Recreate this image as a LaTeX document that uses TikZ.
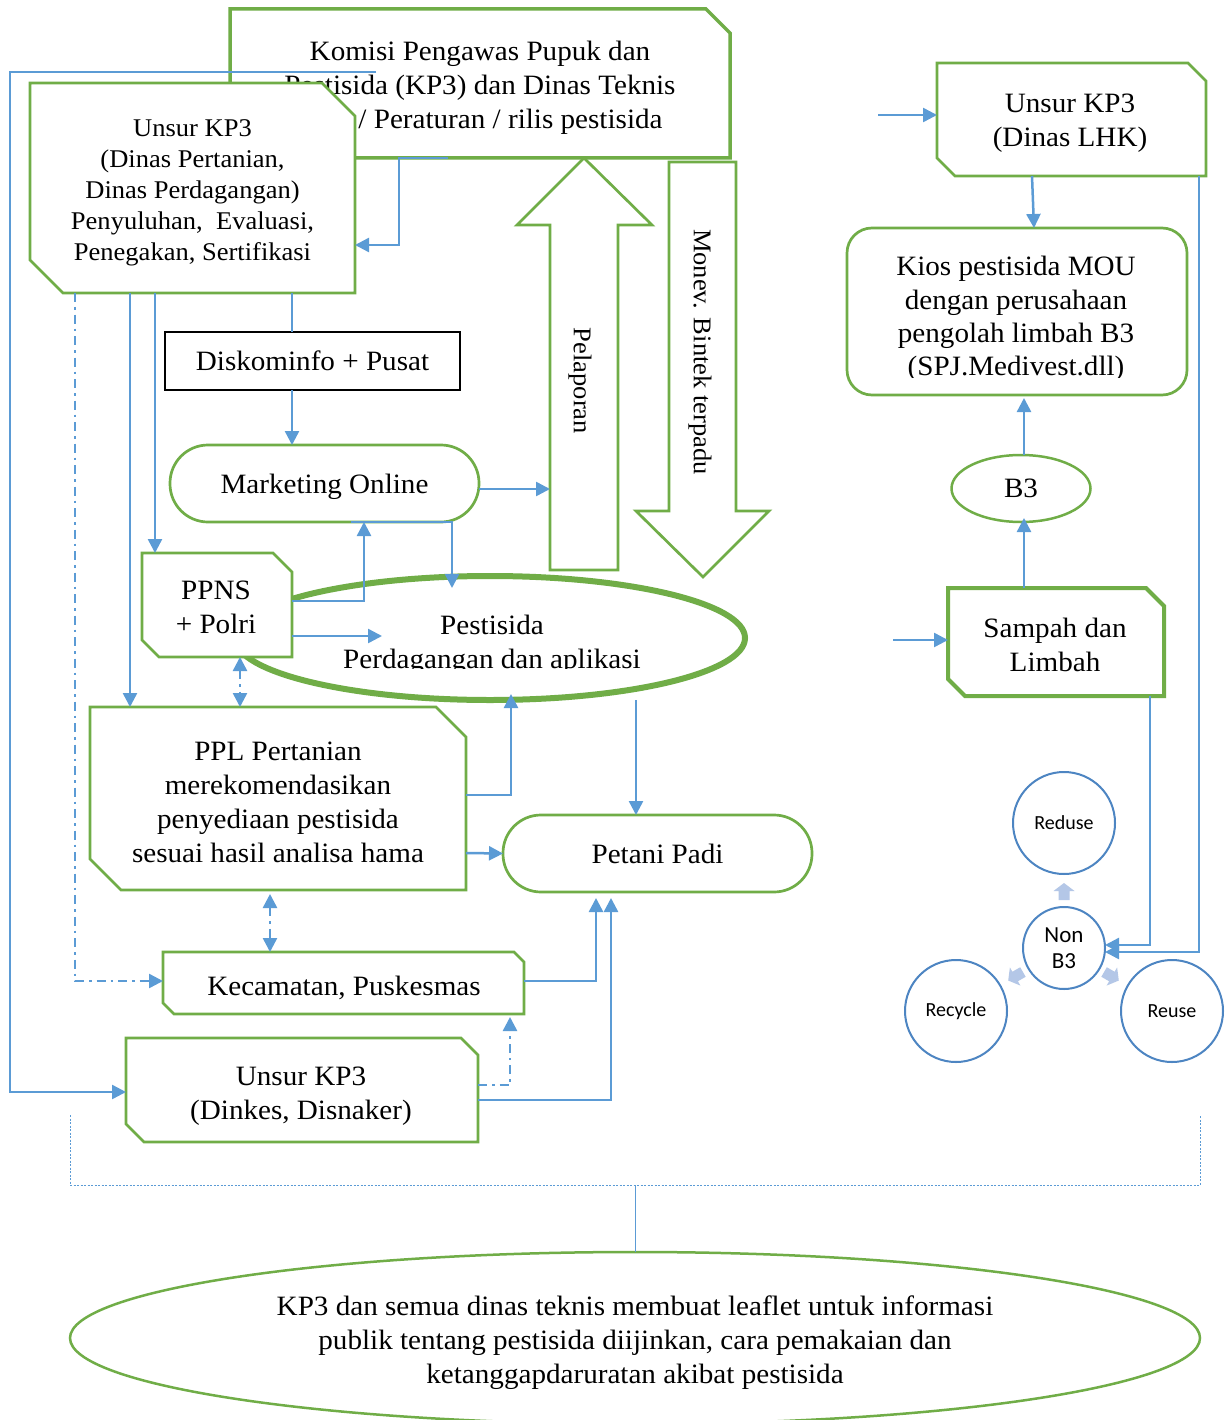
\documentclass[tikz,border=0pt]{standalone}
\usepackage{fontspec}
\setmainfont{Liberation Serif}[FakeStretch=1.04]
\newfontfamily\sansf{Carlito}
\usetikzlibrary{arrows.meta,shapes.geometric}
\definecolor{cgreen}{HTML}{70AD47}
\definecolor{cblue}{HTML}{5B9BD5}
\definecolor{ccirc}{HTML}{4D85C2}
\definecolor{clight}{HTML}{B4C7E7}
\newcommand\chbox[4]{\draw[#4] ([xshift=-#2]#1.north east) -- ([yshift=-#2]#1.north east) -- (#1.south east) -- ([xshift=#3]#1.south west) -- ([yshift=#3]#1.south west) -- (#1.north west) -- cycle;}
\begin{document}
\begin{tikzpicture}[x=1pt,y=-1pt,
  >={Triangle[length=14pt,width=14pt]},
  every node/.style={font=\fontsize{28}{34}\selectfont, align=center},
  frame/.style={inner sep=0pt, outer sep=0pt},
  gbox/.style={draw=cgreen, line width=2.7pt, fill=white},
  conn/.style={draw=cblue, line width=2.5pt},
  arr/.style={conn, ->},
  dd/.style={dash pattern=on 9pt off 5pt on 2.5pt off 5pt},
  darr/.style={conn, <->, dd},
  circ/.style={circle, draw=ccirc, line width=2pt, fill=white, inner sep=0pt, outer sep=0pt, font=\sansf\fontsize{20}{24}\selectfont},
  small/.style={font=\fontsize{25.5}{31}\selectfont},
  blockarr/.pic={\fill[clight] (-8,-5.5) -- (1,-5.5) -- (1,-10.5) -- (9,0) -- (1,10.5) -- (1,5.5) -- (-8,5.5) -- cycle;}
]
\path[use as bounding box, clip] (0,0) rectangle (1230,1420);
\fill[white] (0,0) rectangle (1230,1420);

% top box
\node[frame, minimum width=500pt, minimum height=149pt] (komisi) at (480,83.5) {};
\chbox{komisi}{24pt}{0pt}{gbox, line width=3.5pt}
\node (komisiT) at (480,88) {Komisi Pengawas Pupuk dan\\Pestisida (KP3) dan Dinas Teknis\\\hspace*{61pt}/ Peraturan / rilis pestisida};

% Unsur KP3 (Dinas Pertanian)
\node[frame, minimum width=325pt, minimum height=210pt] (unsur1) at (192.5,188) {};
\chbox{unsur1}{33pt}{33pt}{gbox}
\node[small] (unsur1T) at (192.5,193) {Unsur KP3\\(Dinas Pertanian,\\Dinas Perdagangan)\\Penyuluhan,\ \ Evaluasi,\\Penegakan, Sertifikasi};

% Pelaporan arrow
\node[frame, minimum width=68pt, minimum height=345pt] (pel) at (584,397.5) {};
\draw[gbox] (pel.south west) -- (pel.north west) -- ++(-33,0) -- ++(67,-67) -- ++(68,67) -- (pel.north east) -- (pel.south east) -- cycle;
\node[rotate=-90, small] (pelT) at (580,381) {Pelaporan};

% Monev arrow
\node[frame, minimum width=67pt, minimum height=349pt] (monev) at (702.5,336.5) {};
\draw[gbox] (monev.north west) -- (monev.south west) -- ++(-33,0) -- ++(67,66) -- ++(66,-66) -- (monev.south east) -- (monev.north east) -- cycle;
\node[rotate=-90, small] (monevT) at (700,352) {Monev. Bintek terpadu};

% Diskominfo
\node[draw=black, line width=1.2pt, fill=white, minimum width=295pt, minimum height=58pt, inner sep=0pt, outer sep=0pt] (disk) at (312.5,361) {Diskominfo + Pusat};

% Marketing Online
\node[gbox, rounded corners=38pt, minimum width=309pt, minimum height=77pt, inner sep=0pt, outer sep=0pt] (mkt) at (324.5,483.5) {};
\node (mktT) at (324.5,487) {Marketing Online};

% Pestisida ellipse
\node[ellipse, draw=cgreen, line width=6pt, fill=white, minimum width=510pt, minimum height=124pt, inner sep=0pt, outer sep=0pt] (pest) at (490,638) {};
\begin{scope}
\clip (300,590) rectangle (760,668);
\node (pestT) at (492,645) {Pestisida\\Perdagangan dan aplikasi};
\end{scope}

% PPNS
\node[frame, minimum width=150pt, minimum height=104pt] (ppns) at (217,605) {};
\chbox{ppns}{19pt}{17pt}{gbox}
\node (ppnsT) at (216,607) {PPNS\\+ Polri};

% PPL
\node[frame, minimum width=376pt, minimum height=183pt] (ppl) at (278,798.5) {};
\chbox{ppl}{30pt}{31pt}{gbox}
\node (pplT) at (278,802) {PPL Pertanian\\merekomendasikan\\penyediaan pestisida\\sesuai hasil analisa hama};

% Petani Padi
\node[gbox, rounded corners=38pt, minimum width=309pt, minimum height=77pt, inner sep=0pt, outer sep=0pt] (petani) at (657.5,853.5) {Petani Padi};

% Kecamatan
\node[frame, minimum width=361pt, minimum height=62pt] (kec) at (343.5,983) {};
\chbox{kec}{10pt}{11pt}{gbox}
\node (kecT) at (344,988) {Kecamatan, Puskesmas};

% Dinkes
\node[frame, minimum width=352pt, minimum height=104pt] (dinkes) at (302,1090) {};
\chbox{dinkes}{17pt}{18pt}{gbox}
\node (dinkesT) at (301,1096) {Unsur KP3\\(Dinkes, Disnaker)};

% LHK
\node[frame, minimum width=269pt, minimum height=113pt] (lhk) at (1071.5,119.5) {};
\chbox{lhk}{18pt}{18pt}{gbox}
\node (lhkT) at (1070,123) {Unsur KP3\\(Dinas LHK)};

% Kios
\node[gbox, rounded corners=25pt, minimum width=340pt, minimum height=167pt, inner sep=0pt, outer sep=0pt] (kios) at (1017,311.5) {};
\begin{scope}
\clip (850,230) rectangle (1185,377);
\node[font=\fontsize{28}{33.4}\selectfont] (kiosT) at (1016,319) {Kios pestisida MOU\\dengan perusahaan\\pengolah limbah B3\\(SPJ.Medivest.dll)};
\end{scope}

% B3
\node[ellipse, draw=cgreen, line width=2.5pt, fill=white, minimum width=139pt, minimum height=67pt, inner sep=0pt, outer sep=0pt] (b3) at (1021,488.5) {B3};

% Sampah
\node[frame, minimum width=216pt, minimum height=108pt] (sampah) at (1056,642) {};
\chbox{sampah}{18pt}{17pt}{gbox, line width=4pt}
\node (sampahT) at (1055,645) {Sampah dan\\Limbah};

% circles
\node[circ, minimum size=82pt, font=\sansf\fontsize{23}{26}\selectfont] (nonb3) at (1064,948) {Non\\B3};
\node[circ, minimum size=102pt] (reduse) at (1064,823) {Reduse};
\node[circ, minimum size=102pt] (recycle) at (956,1011) {Recycle};
\node[circ, minimum size=102pt] (reuse) at (1172,1011) {Reuse};
\pic[rotate=90] at (1064,892) {blockarr};
\pic[rotate=210] at (1016,976) {blockarr};
\pic[rotate=330] at (1111,976) {blockarr};

% leaflet ellipse
\node[ellipse, draw=cgreen, line width=2.5pt, fill=white, minimum width=1130pt, minimum height=172pt, inner sep=0pt, outer sep=0pt] (leaflet) at (635,1338) {};
\node (leafT) at (635,1343) {KP3 dan semua dinas teknis membuat leaflet untuk informasi\\publik tentang pestisida diijinkan, cara pemakaian dan\\ketanggapdaruratan akibat pestisida};

% connectors
\coordinate (loopS) at (376,72);
\draw[arr] (loopS) -- ++(-366,0) |- ([yshift=-2pt]dinkes.west);
\draw[arr] ([xshift=-32pt]komisi.south) -- ++(-49,0) |- ([yshift=-57pt]unsur1.east);
\draw[arr,dd] ([xshift=-117.5pt]unsur1.south) |- ([yshift=2pt]kec.west);
\draw[arr] ([xshift=-62.5pt]unsur1.south) -- ([xshift=-148pt]ppl.north);
\draw[arr] ([xshift=-37.5pt]unsur1.south) -- ([xshift=-62pt]ppns.north);
\draw[conn] ([xshift=99.5pt]unsur1.south) -- ([xshift=-20.5pt]disk.north);
\draw[arr] ([xshift=-20.5pt]disk.south) -- ([xshift=-32.5pt]mkt.north);
\draw[arr] ([yshift=-5.5pt]mkt.east) -- ([yshift=-91.5pt]pel.west);
\draw[arr] ([yshift=4pt]ppns.east) -| ([xshift=39.5pt]mkt.south);
\draw[arr] ([xshift=26.5pt]mkt.south) -| ([xshift=-38pt,yshift=-12pt]pest.north);
\draw[arr] ([yshift=-31pt]ppns.east) -- ([xshift=147pt,yshift=2pt]pest.west);
\draw[darr] ([xshift=23pt]ppns.south) -- ([xshift=-38pt]ppl.north);
\draw[arr] ([yshift=3.5pt]ppl.east) -| ([xshift=21pt,yshift=6pt]pest.south);
\draw[arr] ([yshift=-54.5pt]ppl.east) -- (petani.west);
\draw[arr] ([xshift=146pt]pest.south) -- ([xshift=-21.5pt]petani.north);
\draw[darr] ([xshift=-8pt,yshift=-4pt]ppl.south) -- ([xshift=-73.5pt]kec.north);
\draw[arr] ([yshift=2pt]kec.east) -| ([xshift=-61.5pt,yshift=-6pt]petani.south);
\draw[arr,dd] ([yshift=5pt]dinkes.east) -| ([xshift=166.5pt,yshift=-3pt]kec.south);
\draw[arr] ([yshift=-10pt]dinkes.east) -| ([xshift=-46.5pt,yshift=-6pt]petani.south);

\coordinate (lhkIn) at (878,115);
\draw[arr] (lhkIn) -- ([yshift=4.5pt]lhk.west);
\draw[arr] ([xshift=-39.5pt]lhk.south) -- ([xshift=17pt]kios.north);
\draw[arr] ([xshift=127.5pt]lhk.south) |- ([yshift=-4pt]nonb3.east);
\draw[arr] ([xshift=94pt]sampah.south) |- ([yshift=3pt]nonb3.east);
\draw[arr] ([xshift=-32pt]sampah.north) -- ([xshift=3pt,yshift=4pt]b3.south);
\draw[arr] ([xshift=3pt]b3.north) -- ([xshift=7pt,yshift=-3pt]kios.south);
\coordinate (sampahIn) at (893,640);
\draw[arr] (sampahIn) -- ([yshift=2pt]sampah.west);

% bracket
\coordinate (brL) at (70,1115);
\coordinate (brR) at (1200,1115);
\draw[cblue, line width=1pt, dash pattern=on 2pt off 1.5pt] (brL) |- (635,1185) coordinate (brM) -| (brR);
\draw[cblue, line width=1pt] (brM) -- (leaflet.north);
\end{tikzpicture}
\end{document}
